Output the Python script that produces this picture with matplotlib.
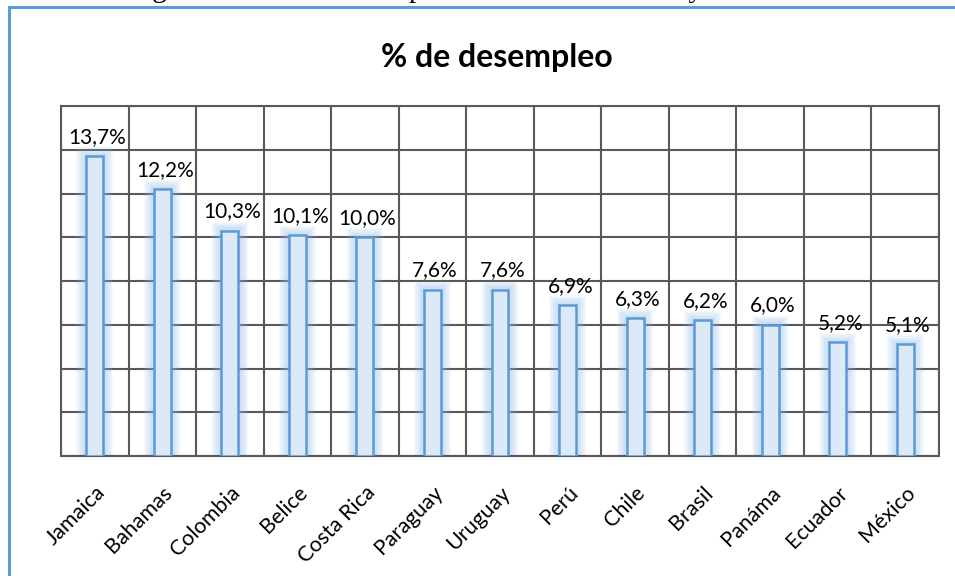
import matplotlib
matplotlib.use("Agg")
import matplotlib.pyplot as plt
from matplotlib.patches import Rectangle
import numpy as np

paises = ["Jamaica", "Bahamas", "Colombia", "Belice", "Costa Rica", "Paraguay",
          "Uruguay", "Perú", "Chile", "Brasil", "Panáma", "Ecuador", "México"]
desempleo = [13.7, 12.2, 10.3, 10.1, 10.0, 7.6, 7.6, 6.9, 6.3, 6.2, 6.0, 5.2, 5.1]
etiquetas = ["13,7%", "12,2%", "10,3%", "10,1%", "10,0%", "7,6%", "7,6%", "6,9%",
             "6,3%", "6,2%", "6,0%", "5,2%", "5,1%"]
titulo = "% de desempleo"
leyenda_fig = "Figura 4. Tasa de desempleo de América Latina y el Caribe"

plt.rcParams['font.family'] = ['Lato', 'DejaVu Sans']

fig = plt.figure(figsize=(9.55, 5.76), dpi=100)
fig.patch.set_facecolor("white")

# outer frame (extends beyond the image on right and bottom)
frame = Rectangle((9 / 955, -0.1), 1.2, (576 - 7) / 576 + 0.1, transform=fig.transFigure,
                  fill=False, edgecolor="#5B9BD5", linewidth=2.2, zorder=0)
fig.patches.append(frame)

# caption of the page, clipped by the top edge as in the reference
fig.text(128 / 955, 1 + 3 / 576, leyenda_fig, family=["Liberation Serif", "DejaVu Serif"],
         fontsize=21, ha="left", va="baseline", color="black")

ax = fig.add_axes([61 / 955, 120 / 576, 878 / 955, 350 / 576])
x = np.arange(len(paises))
ax.set_xlim(-0.5, len(paises) - 0.5)
ax.set_ylim(0, 16)

grid_c = "#595959"
for yv in np.arange(0, 17, 2):
    ax.axhline(yv, color=grid_c, lw=1.5, zorder=1)
for xv in np.arange(-0.5, len(paises), 1):
    ax.axvline(xv, color=grid_c, lw=1.5, zorder=1)
for s in ax.spines.values():
    s.set_color(grid_c)
    s.set_linewidth(1.5)

w = 0.25
vals = np.array(desempleo)
# soft glow around each bar
for k in np.linspace(0.0, 1.0, 9):
    gw = w + 0.30 * k
    gh = 0.42 * k
    ax.bar(x, vals + gh, width=gw, color="#8DBDEB", alpha=0.08, linewidth=0, zorder=2)
ax.bar(x, vals, width=w, color="#DCEAF8", edgecolor="#5B9BD5", linewidth=1.8, zorder=3)

for xi, v, t in zip(x, vals, etiquetas):
    ax.text(xi + 0.04, v + 0.42, t, ha="center", va="bottom", fontsize=15, color="black", zorder=4)

ax.set_xticks(x)
ax.set_xticklabels(paises, rotation=45, ha="right", va="top", rotation_mode="anchor",
                   fontsize=15.5, color="black")
ax.tick_params(axis="x", length=0, pad=19)
ax.set_yticks([])

fig.text(497 / 955, 1 - 57 / 576, titulo, ha="center", va="center", fontsize=23,
         fontweight="bold", color="black")

fig.savefig("out.png", dpi=100)
